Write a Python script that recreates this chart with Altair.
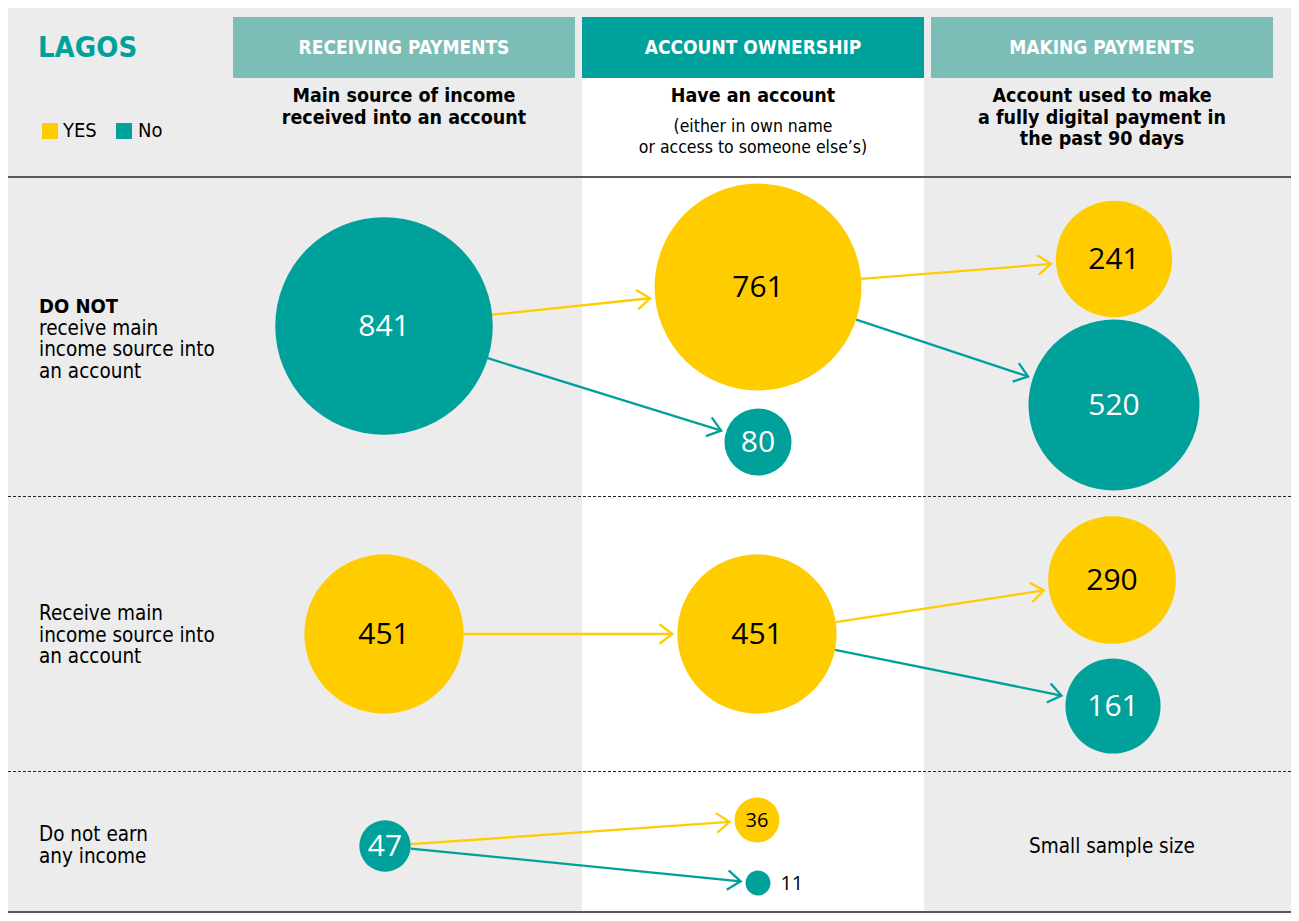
import math
import altair as alt
import pandas as pd

# ---------------- data ----------------
node_ids = ["R_no", "R_yes", "R_none",
            "O1_yes", "O1_no", "O2_yes", "O3_yes", "O3_no",
            "M1_yes", "M1_no", "M2_yes", "M2_no"]
node_values = [841, 451, 47, 761, 80, 451, 36, 11, 241, 520, 290, 161]
node_answers = ["No", "YES", "No", "YES", "No", "YES", "YES", "No",
                "YES", "No", "YES", "No"]

edge_sources = ["R_no", "R_no", "O1_yes", "O1_yes", "R_yes", "O2_yes", "O2_yes", "R_none", "R_none"]
edge_targets = ["O1_yes", "O1_no", "M1_yes", "M1_no", "O2_yes", "M2_yes", "M2_no", "O3_yes", "O3_no"]

header_titles = ["RECEIVING PAYMENTS", "ACCOUNT OWNERSHIP", "MAKING PAYMENTS"]
subtitle_bold = [["Main source of income", "received into an account"],
                 ["Have an account"],
                 ["Account used to make", "a fully digital payment in", "the past 90 days"]]
subtitle_note = ["(either in own name", "or access to someone else\u2019s)"]
row_labels = [["DO NOT", "receive main", "income source into", "an account"],
              ["Receive main", "income source into", "an account"],
              ["Do not earn", "any income"]]
city = "LAGOS"
small_sample = "Small sample size"
answer_domain = ["YES", "No"]

# ---------------- layout / style ----------------
W, H = 1283, 905
X0, Y0 = 8, 8
YELLOW, TEAL, LTEAL = "#FFCC00", "#00A19A", "#7DBDB8"
FONT = "DejaVu Sans Condensed, Liberation Sans Narrow, DejaVu Sans, sans-serif"
NFONT = "Open Sans, Noto Sans, sans-serif"

node_pos = {"R_no": (384, 326), "R_yes": (384, 634), "R_none": (385, 846),
            "O1_yes": (758, 287), "O1_no": (758, 442), "O2_yes": (757, 634),
            "O3_yes": (757, 820), "O3_no": (758, 883),
            "M1_yes": (1114, 259), "M1_no": (1114, 405), "M2_yes": (1112, 580),
            "M2_no": (1113, 706)}
K = 3.75                      # radius = K * sqrt(value)
SIZE_DOMAIN = [0, 1000]
SIZE_RANGE = [0, 4 * K * K * 1000]

xs = alt.Scale(domain=[X0, X0 + W], nice=False, zero=False)
ys = alt.Scale(domain=[Y0, Y0 + H], nice=False, zero=False, reverse=True)
fill_scale = alt.Scale(domain=answer_domain, range=[YELLOW, TEAL])


def X(f="x"):
    return alt.X(f"{f}:Q", scale=xs, axis=None)


def Y(f="y"):
    return alt.Y(f"{f}:Q", scale=ys, axis=None)


def radius(v):
    return K * math.sqrt(v)


nodes = pd.DataFrame({"id": node_ids, "value": node_values, "answer": node_answers})
nodes["x"] = [node_pos[i][0] for i in node_ids]
nodes["y"] = [node_pos[i][1] for i in node_ids]
nodes["r"] = nodes["value"].apply(radius)
nodes["label"] = nodes["value"].astype(str)
nodes["lx"] = nodes["x"] + nodes["r"] + 10
nodes["ty"] = nodes["y"] + 1

val = dict(zip(node_ids, node_values))
ans = dict(zip(node_ids, node_answers))
rows = []
for s, t in zip(edge_sources, edge_targets):
    sx, sy = node_pos[s]
    tx, ty = node_pos[t]
    d = math.hypot(tx - sx, ty - sy)
    ux, uy = (tx - sx) / d, (ty - sy) / d
    rs, rt = radius(val[s]), radius(val[t])
    rows.append({"x": sx + ux * rs, "y": sy + uy * rs,
                 "x2": tx - ux * (rt + 5), "y2": ty - uy * (rt + 5),
                 "ang": math.degrees(math.atan2(uy, ux)) % 360,
                 "answer": ans[t]})
edges = pd.DataFrame(rows)

stroke_enc = alt.Stroke("answer:N", scale=alt.Scale(domain=answer_domain, range=[YELLOW, TEAL]), legend=None)
fill_enc = alt.Fill("answer:N", scale=fill_scale, legend=None)

# background panels
white_col = alt.Chart(pd.DataFrame({"x": [582], "x2": [924], "y": [17], "y2": [913]})).mark_rect(
    fill="white").encode(x=X(), x2="x2", y=Y(), y2="y2")
light_boxes = alt.Chart(pd.DataFrame({"x": [233, 931], "x2": [575, 1273], "y": [17, 17], "y2": [78, 78]})).mark_rect(
    fill=LTEAL).encode(x=X(), x2="x2", y=Y(), y2="y2")
dark_box = alt.Chart(pd.DataFrame({"x": [582], "x2": [924], "y": [17], "y2": [78]})).mark_rect(
    fill=TEAL).encode(x=X(), x2="x2", y=Y(), y2="y2")

solid_lines = alt.Chart(pd.DataFrame({"x": [8, 8], "x2": [1291, 1291], "y": [177, 912]})).mark_rule(
    color="#595959", strokeWidth=2).encode(x=X(), x2="x2", y=Y())
dashed_lines = alt.Chart(pd.DataFrame({"x": [8, 8], "x2": [1291, 1291], "y": [496.5, 771.5]})).mark_rule(
    color="#222222", strokeWidth=1, strokeDash=[3, 2]).encode(x=X(), x2="x2", y=Y())

# arrows
arrow_lines = alt.Chart(edges).mark_rule(strokeWidth=2.3).encode(
    x=X(), y=Y(), x2="x2:Q", y2="y2:Q", stroke=stroke_enc)
arrow_heads = alt.Chart(edges).mark_point(
    shape="M-1,-0.75L0,0L-1,0.75", filled=False, size=676, strokeWidth=2.3, opacity=1).encode(
    x=X("x2"), y=Y("y2"), angle=alt.Angle("ang:Q", scale=None), stroke=stroke_enc)

# circles
circles = alt.Chart(nodes).mark_circle(opacity=1).encode(
    x=X(), y=Y(),
    size=alt.Size("value:Q", scale=alt.Scale(domain=SIZE_DOMAIN, range=SIZE_RANGE, zero=True), legend=None),
    fill=fill_enc)

text_color = alt.condition(alt.datum.answer == "YES", alt.value("black"), alt.value("white"))
big_labels = alt.Chart(nodes).transform_filter("datum.value >= 40").mark_text(
    font=NFONT, fontSize=30, baseline="middle", align="center").encode(
    x=X(), y=Y("ty"), text="label:N", color=text_color)
mid_labels = alt.Chart(nodes).transform_filter("datum.value < 40 && datum.r >= 15").mark_text(
    font=NFONT, fontSize=20, baseline="middle", align="center").encode(
    x=X(), y=Y("ty"), text="label:N", color=text_color)
out_labels = alt.Chart(nodes).transform_filter("datum.r < 15").mark_text(
    font=NFONT, fontSize=20, baseline="middle", align="left", color="black").encode(
    x=X("lx"), y=Y("ty"), text="label:N")

# legend (drawn from the answer categories through the fill scale)
legend_df = pd.DataFrame({"answer": answer_domain, "x": [50, 124], "y": [131, 131],
                          "tx": [63, 138]})
legend_sq = alt.Chart(legend_df).mark_square(size=256, opacity=1).encode(
    x=X(), y=Y(), fill=fill_enc)
legend_tx = alt.Chart(legend_df).mark_text(font=FONT, fontSize=20, align="left", baseline="middle",
                                           color="black").encode(x=X("tx"), y=Y(), text="answer:N")


def text_layer(texts, xs_, ys_, size, weight="normal", color="black", align="center", font=FONT):
    df = pd.DataFrame({"t": texts, "x": xs_, "y": ys_})
    return alt.Chart(df).mark_text(font=font, fontSize=size, fontWeight=weight, color=color,
                                   align=align, baseline="middle").encode(x=X(), y=Y(), text="t:N")


col_centers = [404, 753, 1102]
title_layer = text_layer([city], [38], [48], 29, "bold", TEAL, "left")
header_layer = text_layer(header_titles, col_centers, [48, 48, 48], 19, "bold", "white")

sb_t, sb_x, sb_y = [], [], []
for c, lines in zip(col_centers, subtitle_bold):
    for i, ln in enumerate(lines):
        sb_t.append(ln); sb_x.append(c); sb_y.append(96 + 21.5 * i)
sub_layer = text_layer(sb_t, sb_x, sb_y, 19.5, "bold")
note_layer = text_layer(subtitle_note, [753, 753], [127, 148], 17.5)

row_tops = [307, 614, 835]
rl_t, rl_y, rb_t, rb_y = [], [], [], []
for top, lines in zip(row_tops, row_labels):
    for i, ln in enumerate(lines):
        if ln.isupper():
            rb_t.append(ln); rb_y.append(top + 21.5 * i)
        else:
            rl_t.append(ln); rl_y.append(top + 21.6 * i)
row_bold = text_layer(rb_t, [39] * len(rb_t), rb_y, 20, "bold", align="left")
row_norm = text_layer(rl_t, [39] * len(rl_t), rl_y, 20.5, align="left")
sample_layer = text_layer([small_sample], [1112], [847], 20.5)

chart = alt.layer(
    white_col, light_boxes, dark_box, solid_lines, dashed_lines,
    arrow_lines, arrow_heads, circles, big_labels, mid_labels, out_labels,
    legend_sq, legend_tx,
    title_layer, header_layer, sub_layer, note_layer, row_bold, row_norm, sample_layer
).properties(width=W, height=H, padding=0, autosize=alt.AutoSizeParams(type="none")).configure(
    background="#ECECEC").configure_view(stroke=None)

chart.save("out.html", embed_options={"renderer": "svg", "actions": False})
